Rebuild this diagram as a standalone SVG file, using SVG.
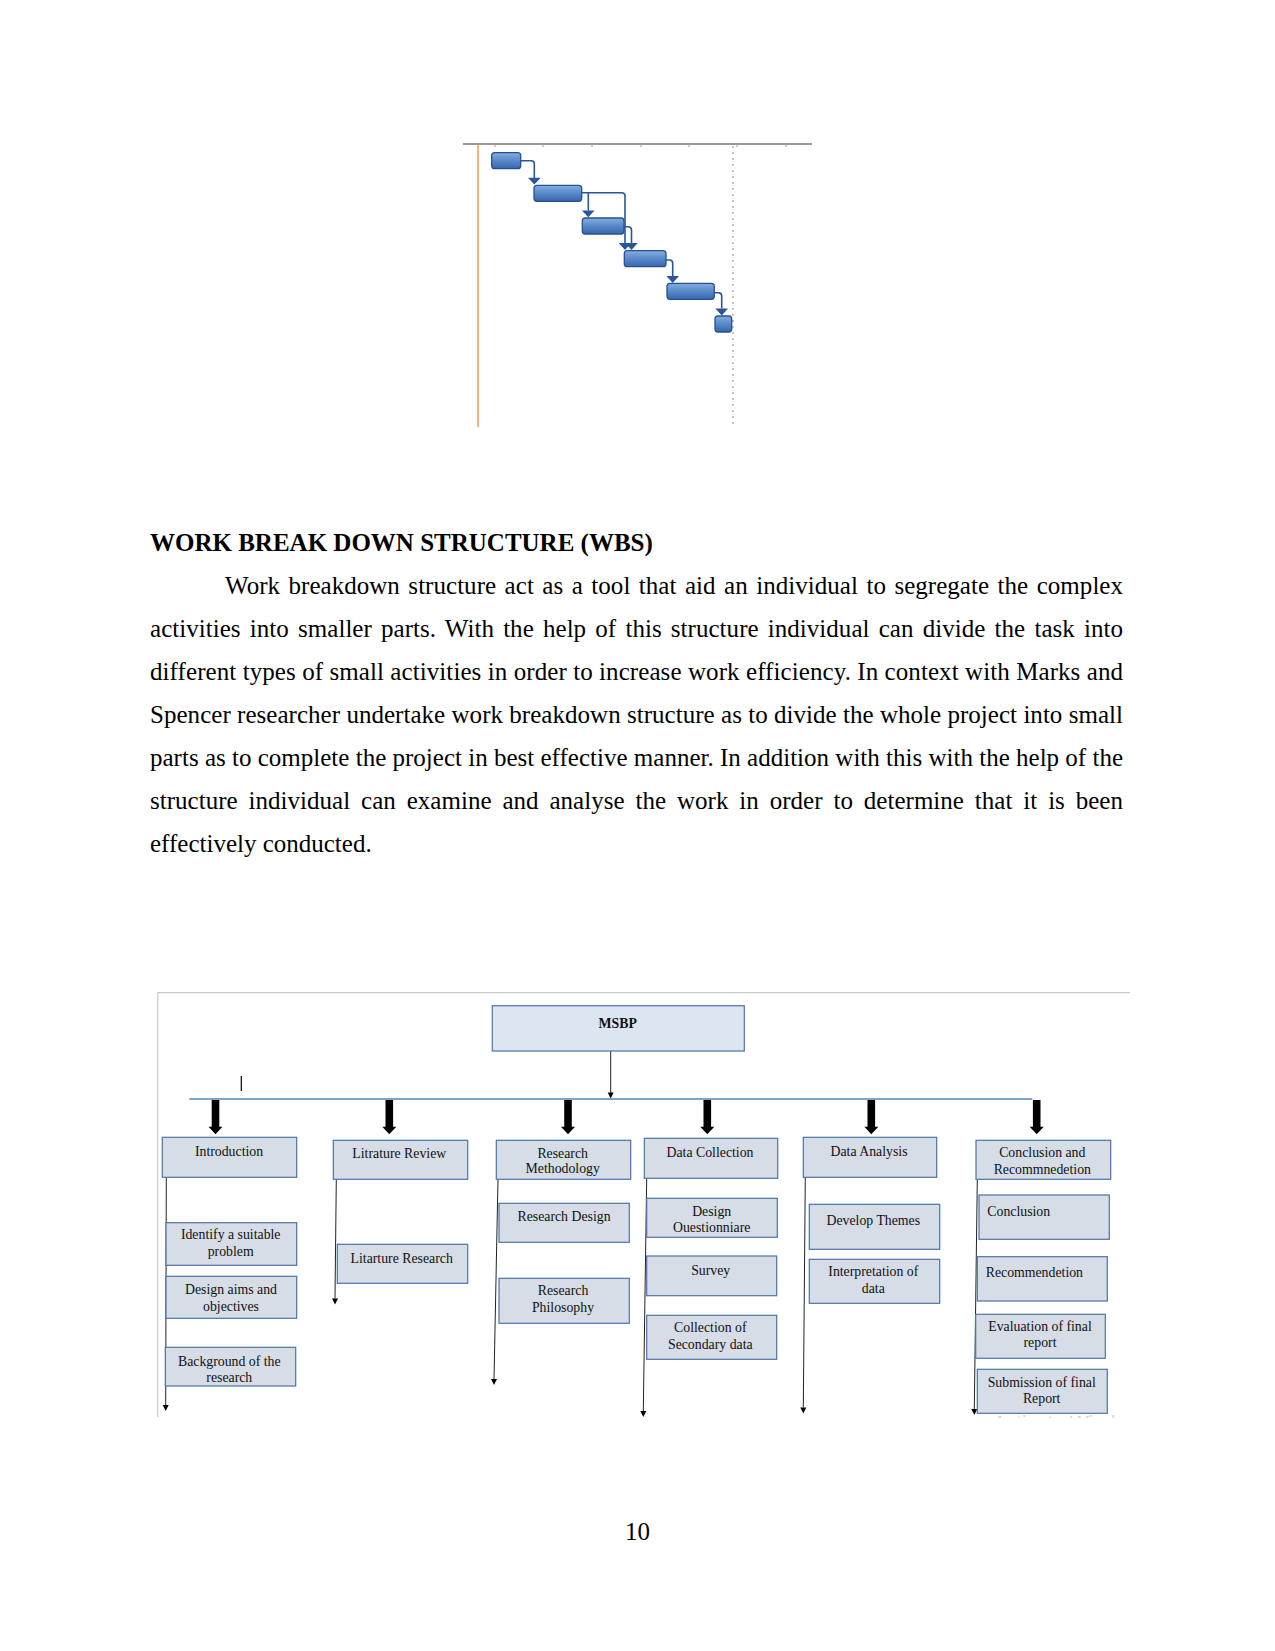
<svg xmlns="http://www.w3.org/2000/svg" width="1275" height="1651" viewBox="0 0 1275 1651">
<defs>
<style>
.body{font-family:"Liberation Serif","Times New Roman",serif;font-size:25px;fill:#000}
.head{font-family:"Liberation Serif","Times New Roman",serif;font-size:25px;font-weight:bold;fill:#000}
.box{fill:#d6dde7;stroke:#4d74a3;stroke-width:1.2}
.root{fill:#dce6f2;stroke:#4d74a3;stroke-width:1.2}
.lbl{font-family:"Liberation Serif","Times New Roman",serif;font-size:13.8px;fill:#111;text-anchor:middle}
.lbll{font-family:"Liberation Serif","Times New Roman",serif;font-size:13.8px;fill:#111}
.thin{stroke:#222;stroke-width:1;fill:none}
.bar{fill:url(#barg);stroke:#27508f;stroke-width:1.3}
.gc{stroke:#2a5597;stroke-width:1.6;fill:none}
.ga{fill:#2a5597}
</style>
<linearGradient id="barg" x1="0" y1="0" x2="0" y2="1">
<stop offset="0" stop-color="#86aee0"/>
<stop offset="0.45" stop-color="#5c8ccc"/>
<stop offset="1" stop-color="#3767ab"/>
</linearGradient>
<path id="blk" d="M-3.8,0 H3.8 V26.7 H7 L0,34.3 L-7,26.7 H-3.8 Z" fill="#000"/>
<path id="tip" d="M-3,-6 L3,-6 L0,0 Z" fill="#000"/>
<clipPath id="wm"><rect x="900" y="1400" width="300" height="18"/></clipPath>
</defs>

<!-- Gantt chart -->
<g id="gantt">
<line x1="463" y1="144" x2="812" y2="144" stroke="#9a9a9a" stroke-width="2"/>
<g stroke="#9a9a9a" stroke-width="1">
<line x1="495" y1="144" x2="495" y2="147"/><line x1="543" y1="144" x2="543" y2="147"/><line x1="592" y1="144" x2="592" y2="147"/><line x1="641" y1="144" x2="641" y2="147"/><line x1="689" y1="144" x2="689" y2="147"/><line x1="737" y1="144" x2="737" y2="147"/><line x1="786" y1="144" x2="786" y2="147"/>
</g>
<line x1="478" y1="145" x2="478" y2="427" stroke="#f4b183" stroke-width="2"/>
<line x1="733" y1="146" x2="733" y2="424" stroke="#a0a0a0" stroke-width="1.2" stroke-dasharray="2,4"/>
<rect class="bar" x="491.7" y="152.7" width="29" height="16" rx="3"/>
<rect class="bar" x="534" y="185.3" width="47.7" height="16" rx="3"/>
<rect class="bar" x="582.3" y="218" width="41.7" height="16" rx="3"/>
<rect class="bar" x="624.3" y="250.7" width="41.7" height="16" rx="3"/>
<rect class="bar" x="667" y="283.3" width="47.3" height="16" rx="3"/>
<rect class="bar" x="715" y="316" width="16.7" height="16" rx="3"/>
<path class="gc" d="M520.7,160.7 H531 Q534.3,160.7 534.3,164 V178"/>
<polygon class="ga" points="528,177.7 540.7,177.7 534.3,184.5"/>
<path class="gc" d="M581.7,192.7 H621.5 Q625,192.7 625,196 V243"/>
<path class="gc" d="M588.3,192.7 V210.5"/>
<polygon class="ga" points="582,210.5 594.6,210.5 588.3,217.3"/>
<polygon class="ga" points="618.7,243 631.3,243 625,250"/>
<path class="gc" d="M624,226.7 H628 Q631.5,226.7 631.5,230 V243"/>
<polygon class="ga" points="625.2,243 637.8,243 631.5,250"/>
<path class="gc" d="M666,260 H669.5 Q672.7,260 672.7,263.3 V276"/>
<polygon class="ga" points="666.4,276 679,276 672.7,283"/>
<path class="gc" d="M714.3,292.7 H718.5 Q721.7,292.7 721.7,296 V308.5"/>
<polygon class="ga" points="715.4,308.5 728,308.5 721.7,315.5"/>
</g>

<!-- Text -->
<g id="text">
<text class="head" x="150" y="551">WORK BREAK DOWN STRUCTURE (WBS)</text>
<text class="body" x="225" y="593.5" word-spacing="2.2" textLength="898" lengthAdjust="spacing">Work breakdown structure act as a tool that aid an individual to segregate the complex</text>
<text class="body" x="150" y="636.5" word-spacing="2.9" textLength="973" lengthAdjust="spacing">activities into smaller parts. With the help of this structure individual can divide the task into</text>
<text class="body" x="150" y="679.5" textLength="973" lengthAdjust="spacing">different types of small activities in order to increase work efficiency. In context with Marks and</text>
<text class="body" x="150" y="722.5" textLength="973" lengthAdjust="spacing">Spencer researcher undertake work breakdown structure as to divide the whole project into small</text>
<text class="body" x="150" y="765.5" textLength="973" lengthAdjust="spacing">parts as to complete the project in best effective manner. In addition with this with the help of the</text>
<text class="body" x="150" y="808.5" word-spacing="4.6" textLength="973" lengthAdjust="spacing">structure individual can examine and analyse the work in order to determine that it is been</text>
<text class="body" x="150" y="851.5">effectively conducted.</text>
<text class="body" x="637.5" y="1540" text-anchor="middle">10</text>
</g>

<!-- WBS frame -->
<g id="frame" stroke="#c9c9c9" stroke-width="1.2">
<line x1="157.7" y1="992.7" x2="1130" y2="992.7"/>
<line x1="157.7" y1="992.7" x2="157.7" y2="1417"/>
</g>

<!-- Connectors -->
<g id="connectors">
<line x1="610.7" y1="1051" x2="610.7" y2="1093" class="thin"/>
<use href="#tip" x="610.7" y="1098.5"/>
<line x1="189.3" y1="1099" x2="1032.3" y2="1099" stroke="#5b84b1" stroke-width="1.3"/>
<line x1="241.3" y1="1076" x2="241.3" y2="1091" stroke="#000" stroke-width="1.2"/>
<use href="#blk" x="215.5" y="1100"/>
<use href="#blk" x="389.3" y="1100"/>
<use href="#blk" x="568" y="1100"/>
<use href="#blk" x="707.3" y="1100"/>
<use href="#blk" x="871.3" y="1100"/>
<use href="#blk" x="1036.7" y="1100"/>
<line x1="166.3" y1="1177.3" x2="165.7" y2="1405" class="thin"/>
<use href="#tip" x="165.7" y="1411"/>
<line x1="336.3" y1="1179.3" x2="335" y2="1298.5" class="thin"/>
<use href="#tip" x="335" y="1304.5"/>
<line x1="498" y1="1179.3" x2="494" y2="1379" class="thin"/>
<use href="#tip" x="494" y="1385"/>
<line x1="646.7" y1="1178.3" x2="643.3" y2="1411" class="thin"/>
<use href="#tip" x="643.3" y="1417"/>
<line x1="805.3" y1="1177.3" x2="803.3" y2="1407.5" class="thin"/>
<use href="#tip" x="803.3" y="1413.5"/>
<line x1="977.3" y1="1179.3" x2="974.3" y2="1409" class="thin"/>
<use href="#tip" x="974.3" y="1415"/>
</g>

<!-- Nodes -->
<g id="n-msbp"><rect class="root" x="492.3" y="1005.7" width="252" height="45.3"/><text class="lbl" x="617.7" y="1027.7" font-weight="bold">MSBP</text></g>

<g id="n-intro"><rect class="box" x="162.3" y="1137.3" width="134.4" height="40"/><text class="lbl" x="229" y="1155.7">Introduction</text></g>
<g id="n-lit"><rect class="box" x="333.3" y="1140.3" width="134.4" height="39"/><text class="lbl" x="399.3" y="1158.3">Litrature Review</text></g>
<g id="n-rm"><rect class="box" x="496.3" y="1140.3" width="134.4" height="39"/><text class="lbl" x="562.7" y="1157.7">Research</text><text class="lbl" x="562.7" y="1173.3">Methodology</text></g>
<g id="n-dc"><rect class="box" x="644.3" y="1138.3" width="133.4" height="40"/><text class="lbl" x="710" y="1156.7">Data Collection</text></g>
<g id="n-da"><rect class="box" x="803.3" y="1137.3" width="133.4" height="40"/><text class="lbl" x="869" y="1155.7">Data Analysis</text></g>
<g id="n-cr"><rect class="box" x="976" y="1140.3" width="134.7" height="39"/><text class="lbl" x="1042.3" y="1157.3">Conclusion and</text><text class="lbl" x="1042.3" y="1174">Recommnedetion</text></g>

<g id="n-isp"><rect class="box" x="166" y="1222.7" width="130.7" height="42.6"/><text class="lbl" x="230.7" y="1239.3">Identify a suitable</text><text class="lbl" x="230.7" y="1256">problem</text></g>
<g id="n-dao"><rect class="box" x="166" y="1276.3" width="130.7" height="42"/><text class="lbl" x="231" y="1294">Design aims and</text><text class="lbl" x="231" y="1310.7">objectives</text></g>
<g id="n-bgr"><rect class="box" x="165.3" y="1347.3" width="130.4" height="38.7"/><text class="lbl" x="229.3" y="1365.7">Background of the</text><text class="lbl" x="229.3" y="1382">research</text></g>

<g id="n-lr"><rect class="box" x="337.3" y="1244.3" width="130.4" height="39"/><text class="lbl" x="401.7" y="1263.3">Litarture Research</text></g>

<g id="n-rd"><rect class="box" x="499" y="1203.3" width="130.3" height="39"/><text class="lbl" x="564" y="1220.7">Research Design</text></g>
<g id="n-rp"><rect class="box" x="499" y="1278.3" width="130.3" height="45"/><text class="lbl" x="563" y="1295">Research</text><text class="lbl" x="563" y="1311.7">Philosophy</text></g>

<g id="n-dq"><rect class="box" x="646.7" y="1198.3" width="130.6" height="39"/><text class="lbl" x="711.7" y="1216">Design</text><text class="lbl" x="711.7" y="1231.7">Ouestionniare</text></g>
<g id="n-sv"><rect class="box" x="646.7" y="1256" width="130" height="39.7"/><text class="lbl" x="710.7" y="1275">Survey</text></g>
<g id="n-cs"><rect class="box" x="646.7" y="1315.3" width="130" height="44"/><text class="lbl" x="710.3" y="1332.3">Collection of</text><text class="lbl" x="710.3" y="1349">Secondary data</text></g>

<g id="n-dt"><rect class="box" x="809.3" y="1204.3" width="130.4" height="45"/><text class="lbl" x="873.3" y="1225">Develop Themes</text></g>
<g id="n-id"><rect class="box" x="809.3" y="1259.3" width="130.4" height="44"/><text class="lbl" x="873.3" y="1276">Interpretation of</text><text class="lbl" x="873.3" y="1292.7">data</text></g>

<g id="n-co"><rect class="box" x="979" y="1195" width="130.3" height="44.3"/><text class="lbll" x="987.3" y="1215.7">Conclusion</text></g>
<g id="n-re"><rect class="box" x="977.3" y="1256.7" width="130" height="44.3"/><text class="lbll" x="985.7" y="1276.7">Recommendetion</text></g>
<g id="n-ev"><rect class="box" x="975.7" y="1314.3" width="129.6" height="44"/><text class="lbl" x="1040" y="1330.7">Evaluation of final</text><text class="lbl" x="1040" y="1347.3">report</text></g>
<g id="n-sub"><rect class="box" x="977.3" y="1369.3" width="130" height="44"/><text class="lbl" x="1041.7" y="1386.7">Submission of final</text><text class="lbl" x="1041.7" y="1402.7">Report</text></g>

<g id="watermark" clip-path="url(#wm)"><text x="993" y="1430" font-family="Liberation Sans, Arial, sans-serif" font-size="20" fill="#d4d4d4">Activate Windows</text></g>
</svg>
